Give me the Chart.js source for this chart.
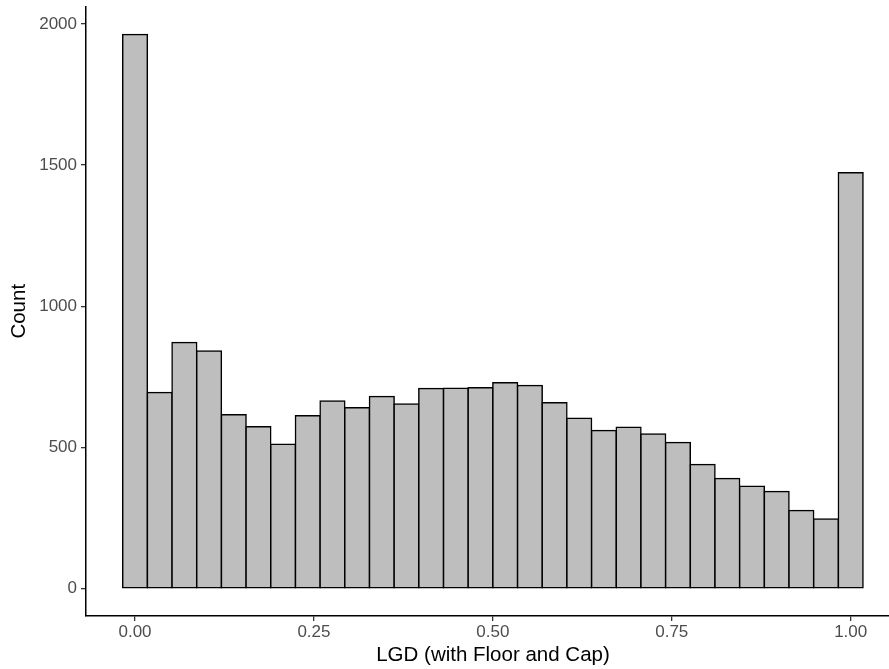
<!DOCTYPE html>
<html>
<head>
<meta charset="utf-8">
<script src="https://cdn.jsdelivr.net/npm/chart.js@4/dist/chart.umd.min.js"></script>
<style>
  html, body { margin: 0; padding: 0; background: #ffffff; overflow: hidden; }
  #wrap { position: relative; width: 900px; height: 669px; }
</style>
</head>
<body>
<div id="wrap"><canvas id="c"></canvas></div>
<script>
// Histogram of LGD (with Floor and Cap): 30 bins centred on 0 ... 1
const binCount = 30;
const binWidth = 1 / (binCount - 1);
const counts = [1963, 694, 871, 841, 615, 573, 511, 612, 664, 640,
                680, 653, 708, 709, 711, 729, 719, 658, 603, 559,
                571, 547, 517, 439, 389, 362, 343, 276, 246, 1473];
const binCenters = counts.map((_, i) => i * binWidth);
const xTicks = [0, 0.25, 0.5, 0.75, 1];
const yTicks = [0, 500, 1000, 1500, 2000];
const xTitle = 'LGD (with Floor and Cap)';
const yTitle = 'Count';

const FONT = '"Liberation Sans", Arial, Helvetica, sans-serif';

new Chart(document.getElementById('c'), {
  type: 'bar',
  data: {
    datasets: [{
      data: binCenters.map((c, i) => ({ x: c, y: counts[i] })),
      backgroundColor: '#BEBEBE',
      borderColor: '#000000',
      borderWidth: 1.5,
      borderSkipped: false,
      inflateAmount: 0.75,
      barPercentage: 1,
      categoryPercentage: 1
    }]
  },
  options: {
    responsive: true,
    maintainAspectRatio: false,
    animation: false,
    devicePixelRatio: 1,
    layout: { padding: { top: 6.5, left: 0, right: 0, bottom: 0 } },
    plugins: { legend: { display: false }, tooltip: { enabled: false } },
    scales: {
      x: {
        type: 'linear',
        min: -0.0685,
        max: 1.0689,
        offset: false,
        grid: { display: true, drawOnChartArea: false, drawTicks: true, tickLength: 5, color: '#333333', lineWidth: 1.3, offset: false },
        border: { display: true, color: '#000000', width: 1.5 },
        ticks: {
          padding: 1,
          color: '#4D4D4D',
          font: { family: FONT, size: 17 },
          maxRotation: 0,
          autoSkip: false,
          callback: v => Number(v).toFixed(2)
        },
        title: { display: true, text: xTitle, color: '#000000', font: { family: FONT, size: 20.5 }, padding: { top: 0, bottom: 1 } },
        afterBuildTicks: s => { s.ticks = xTicks.map(v => ({ value: v })); },
        afterFit: s => { s.height = 53; s.paddingLeft = 0; s.paddingRight = 0; }
      },
      y: {
        type: 'linear',
        min: -98,
        max: 2062,
        grid: { display: true, drawOnChartArea: false, drawTicks: true, tickLength: 5, color: '#333333', lineWidth: 1.3 },
        border: { display: true, color: '#000000', width: 1.5 },
        ticks: {
          padding: 4,
          color: '#4D4D4D',
          font: { family: FONT, size: 17 },
          autoSkip: false,
          callback: v => String(v)
        },
        title: { display: true, text: yTitle, color: '#000000', font: { family: FONT, size: 20.5 }, padding: { top: 7, bottom: 0 } },
        afterBuildTicks: s => { s.ticks = yTicks.map(v => ({ value: v })); },
        afterFit: s => { s.width = 86; s.paddingTop = 0; s.paddingBottom = 0; }
      }
    }
  }
});
</script>
</body>
</html>
